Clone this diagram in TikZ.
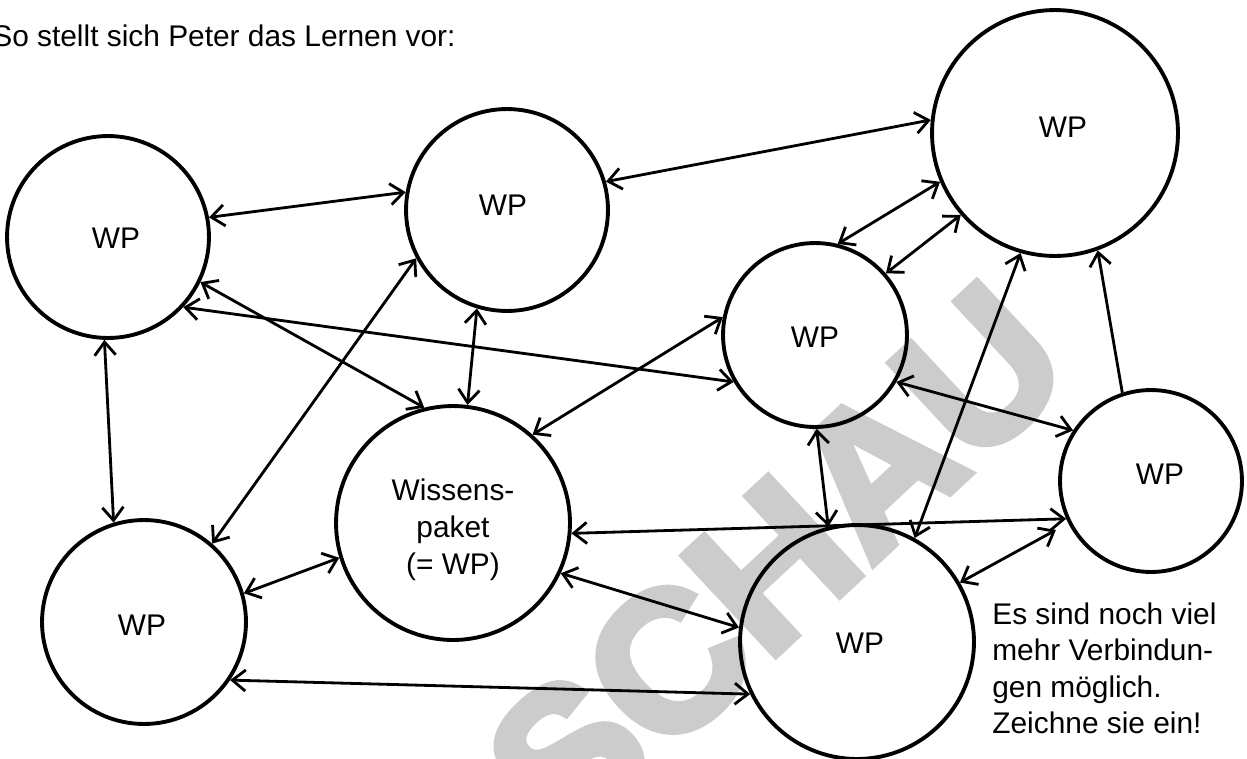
\documentclass[tikz,border=0pt]{standalone}
\usepackage{fontspec}
\setmainfont{Liberation Sans}
\newfontfamily\wmfont[BoldFeatures={FakeBold=4}]{Liberation Sans}
\usetikzlibrary{arrows.meta}
\begin{document}
\begin{tikzpicture}[x=0.02cm,y=-0.02cm,
  wp/.style={circle, draw=black, line width=2.2pt, minimum size=#1*0.04cm, inner sep=0pt},
  conn/.style={line width=1.6pt, {Straight Barb[length=7.5pt,width=12pt]}-{Straight Barb[length=7.5pt,width=12pt]}},
  oneway/.style={line width=1.6pt, -{Straight Barb[length=7.5pt,width=12pt]}},
  lbl/.style={font=\fontsize{17}{20.8}\selectfont, inner sep=0pt},
  wm/.style={text=black!20, font=\fontsize{112}{112}\wmfont\bfseries, inner sep=0pt}]
\useasboundingbox (0,0) rectangle (1247,758);
% watermark
\node[wm, rotate=43] (mark) at (776,562) {SCHAU};
% title and note
\node[lbl, anchor=base west] (title) at (-8,46) {So stellt sich Peter das Lernen vor:};
\node[lbl, anchor=north west, align=left] (note) at (992,602) {Es sind noch viel\\mehr Verbindun-\\gen möglich.\\Zeichne sie ein!};
% knowledge packages
\node[wp=101] (C1) at (108,237) {};
\node[wp=101] (C2) at (507,210) {};
\node[wp=123] (C3) at (1055,133) {};
\node[wp=92]  (C4) at (815,335) {};
\node[wp=91]  (C5) at (1151,481) {};
\node[wp=117] (C6) at (453,523) {};
\node[wp=102] (C7) at (144,622) {};
\node[wp=117] (C8) at (857,642) {};
% labels
\node[lbl] (L1) at (116,238) {WP};
\node[lbl] (L2) at (503,205) {WP};
\node[lbl] (L3) at (1063,127) {WP};
\node[lbl] (L4) at (815,337) {WP};
\node[lbl] (L5) at (1160,474) {WP};
\node[lbl, align=center, font=\fontsize{17}{21.2}\selectfont] (L6) at (453,530) {Wissens-\\paket\\(= WP)};
\node[lbl] (L7) at (142,625) {WP};
\node[lbl] (L8) at (860,643) {WP};
% connections
\draw[conn] (C1.11) -- (C2.170);
\draw[conn] (C1.-26) -- (C6.104);
\draw[conn] (C1.-43) -- (C4.210);
\draw[conn] (C1.-92) -- (C7.107);
\draw[conn] (C2.253) -- (C6.83);
\draw[conn] (C2.208) -- (C7.49);
\draw[conn] (C2.16) -- (C3.174);
\draw[conn] (C3.203) -- (C4.76);
\draw[conn] (C3.221) -- (C4.41);
\draw[conn] (C3.254) -- (C8.61);
\draw[oneway] (C5.108) -- (C3.-70);
\draw[conn] (C4.-30) -- (C5.147);
\draw[conn] (C4.169) -- (C6.48);
\draw[conn] (C4.-89) -- (C8.104);
\draw[conn] (C6.-5) -- (C5.204);
\draw[conn, shorten <=8pt] (C5.207) -- (C8.30);
\draw[conn] (C6.197) -- (C7.16);
\draw[conn] (C6.-25) -- (C8.173);
\draw[conn] (C7.-34) -- (C8.206);
\end{tikzpicture}
\end{document}
